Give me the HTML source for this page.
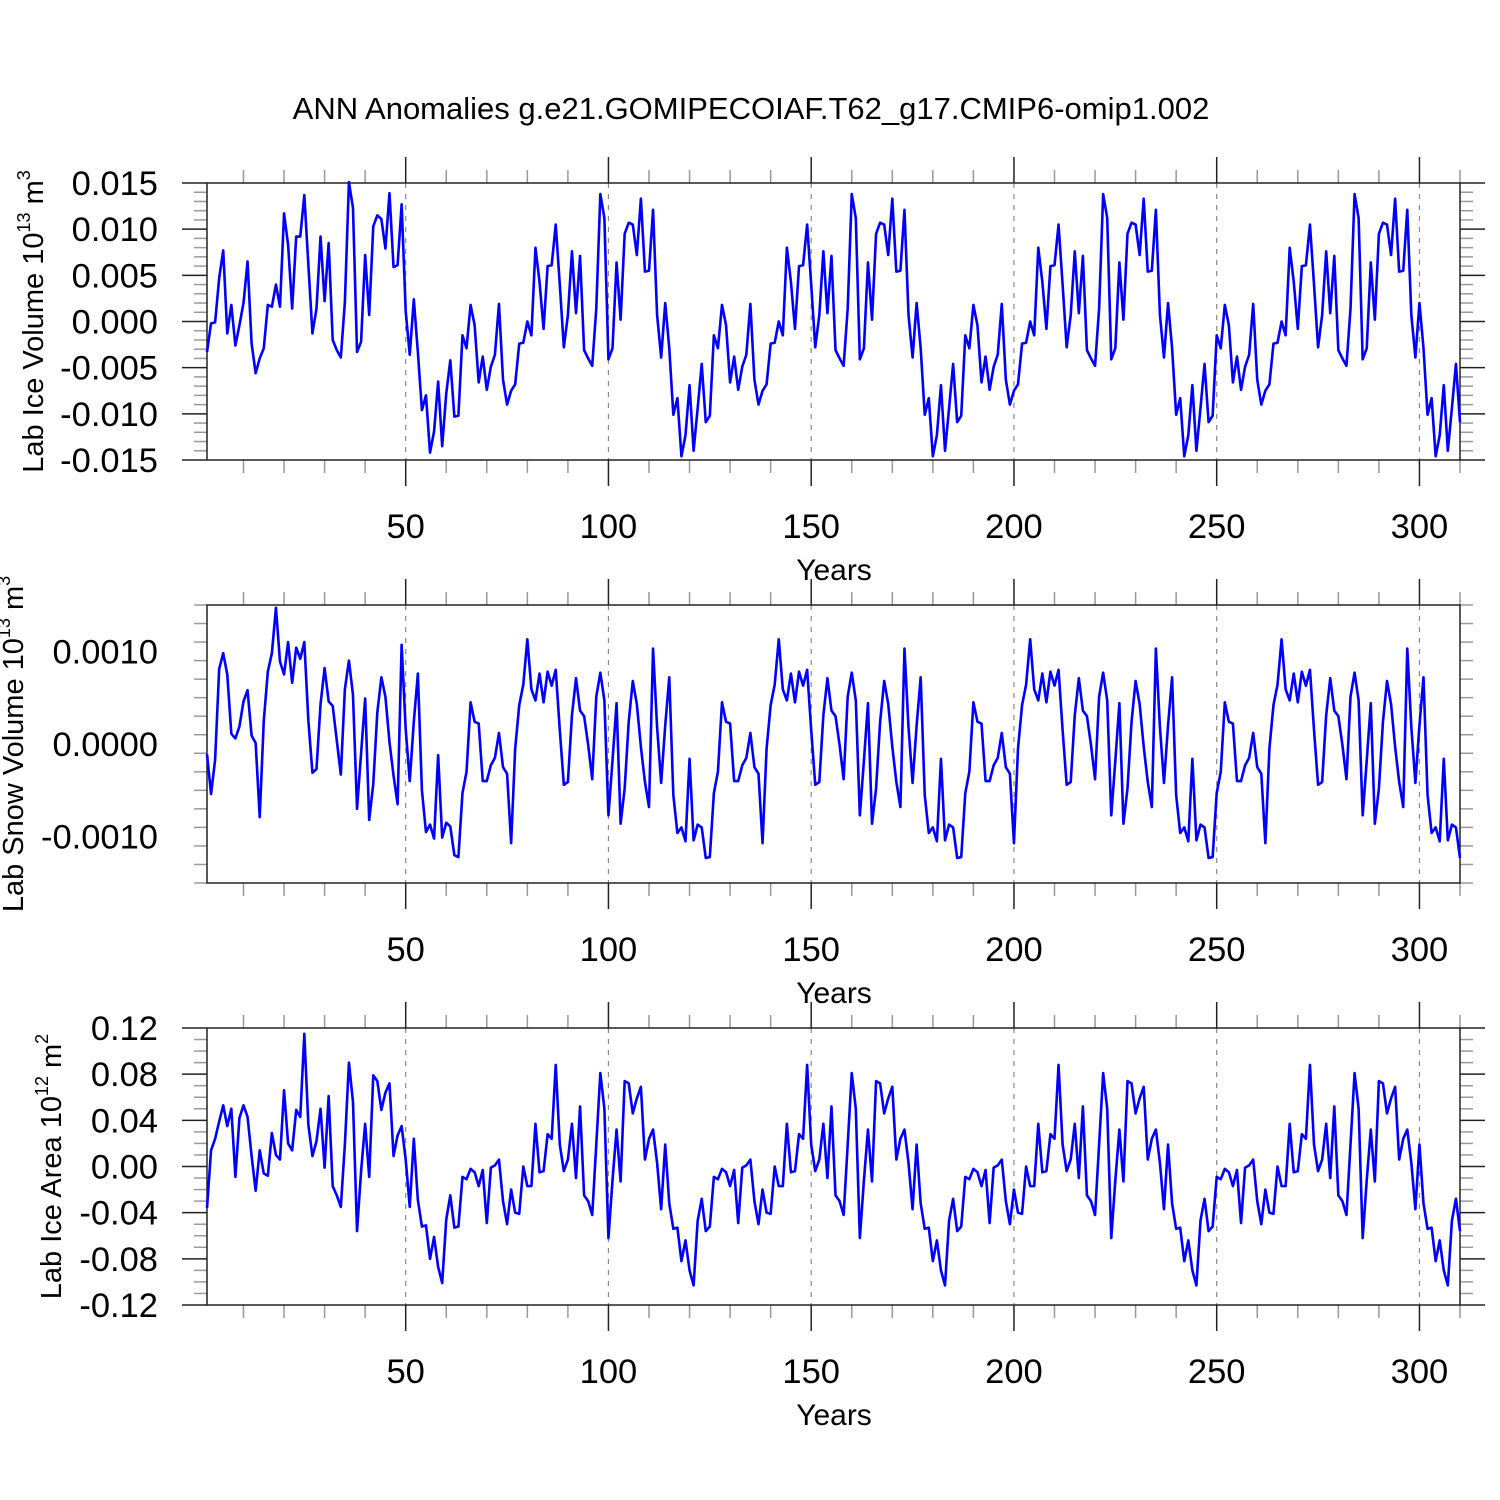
<!DOCTYPE html>
<html><head><meta charset="utf-8"><style>
html,body{margin:0;padding:0;background:#fff;}
svg{display:block;font-family:"Liberation Sans",sans-serif;}
</style></head><body>
<svg id="chart" width="1500" height="1500" viewBox="0 0 1500 1500" xmlns="http://www.w3.org/2000/svg">
<rect width="1500" height="1500" fill="#fff"/>
<text x="751" y="119" font-size="31" text-anchor="middle">ANN Anomalies g.e21.GOMIPECOIAF.T62_g17.CMIP6-omip1.002</text>
</svg>
<script>
// Ice volume (units 1e-3 x 10^13 m^3)
const iceVolCycle1 = [-3.3,-0.2,-0.1,4.7,7.7,-1.3,1.8,-2.6,-0.4,2.0,6.5,-2.4,-5.6,-4.0,-2.9,1.8,1.6,4.0,1.6,11.7,8.3,1.4,9.2,9.2,13.7,6.1,-1.3,1.4,9.2,2.2,8.5,-2.0,-3.1,-3.9,2.1,15.1,12.3,-3.3,-2.2,7.2,0.7,10.3,11.5,11.1,7.9,13.9,5.9,6.1,12.7,1.1,-3.6,2.4,-3.3,-9.6,-8.0,-14.2,-11.9,-6.5,-13.5,-7.8,-4.2,-10.3];
const iceVolCycle = [-10.2,-1.5,-2.9,1.8,-0.4,-6.6,-3.8,-7.4,-4.9,-3.6,1.9,-6.3,-9.0,-7.5,-6.8,-2.4,-2.3,0.0,-1.5,8.0,4.3,-0.8,6.0,6.1,10.5,4.0,-2.8,0.7,7.6,0.9,7.1,-3.1,-4.0,-4.8,1.4,13.8,11.2,-4.1,-2.9,6.4,0.2,9.5,10.7,10.5,7.2,13.3,5.4,5.5,12.1,0.7,-3.9,2.0,-2.9,-10.1,-8.3,-14.6,-12.3,-6.9,-14.0,-9.4,-4.6,-10.9];
// Snow volume (units 1e-4 x 10^13 m^3)
const snowCycle1 = [-1.1,-5.4,-1.7,8.1,9.8,7.5,1.1,0.6,1.9,4.6,5.8,0.9,0.1,-7.9,2.5,7.8,9.8,14.7,8.9,7.5,11.0,6.6,10.4,9.2,11.0,2.5,-3.1,-2.7,4.3,8.2,4.6,4.1,0.4,-3.3,5.9,9.0,5.3,-7.0,-1.0,4.9,-8.2,-4.3,3.4,7.2,5.1,0.2,-3.4,-6.5,10.7,1.6,-4.0,2.4,7.6,-5.0,-9.5,-8.7,-10.2,-1.2,-10.1,-8.5,-8.9,-12.0];
const snowCycle = [-12.2,-5.3,-3.0,4.5,2.4,2.2,-4.0,-4.0,-2.3,-1.5,1.2,-2.5,-3.2,-10.7,-0.5,4.2,6.4,11.3,5.9,4.7,7.6,4.5,7.8,6.3,8.0,1.5,-4.4,-4.1,3.1,7.1,3.6,3.0,-0.1,-3.8,5.1,7.7,4.7,-7.7,-1.8,4.4,-8.6,-4.8,2.4,6.8,4.3,-0.3,-4.1,-6.8,10.3,1.8,-4.2,2.0,7.2,-5.5,-9.6,-9.0,-10.5,-1.6,-10.4,-8.7,-9.0,-12.3];
// Ice area (units 0.01 x 10^12 m^2)
const areaCycle1 = [-3.6,1.4,2.4,3.9,5.3,3.5,5.0,-0.9,4.2,5.3,4.3,0.9,-2.1,1.4,-0.6,-0.8,2.9,1.0,0.6,6.6,2.0,1.4,4.9,4.3,11.5,3.6,0.9,2.2,5.0,-0.1,6.1,-1.7,-2.5,-3.5,1.9,9.0,5.6,-5.6,-0.4,3.7,-0.9,7.9,7.4,4.9,6.4,7.2,0.9,2.7,3.5,0.6,-3.5,2.4,-2.9,-5.2,-5.1,-8.0,-6.1,-8.7,-10.1,-4.6,-2.5,-5.3];
const areaCycle = [-5.2,-0.9,-1.1,-0.2,-0.5,-1.7,-0.3,-4.9,-0.1,0.1,0.6,-3.0,-5.0,-2.0,-4.0,-4.1,0.0,-1.7,-1.7,3.7,-0.5,-0.4,2.8,2.4,8.8,1.9,-0.4,0.6,3.7,-1.0,5.2,-2.5,-3.0,-4.2,1.9,8.1,5.0,-6.2,-1.2,3.2,-1.3,7.4,7.2,4.6,5.9,6.9,0.6,2.4,3.2,0.3,-3.7,1.9,-3.2,-5.4,-5.3,-8.2,-6.4,-9.0,-10.3,-4.7,-2.8,-5.6];

const iceVolume = [...iceVolCycle1, ...iceVolCycle, ...iceVolCycle, ...iceVolCycle, ...iceVolCycle].map(v => v / 1000);
const snowVolume = [...snowCycle1, ...snowCycle, ...snowCycle, ...snowCycle, ...snowCycle].map(v => v / 10000);
const iceArea = [...areaCycle1, ...areaCycle, ...areaCycle, ...areaCycle, ...areaCycle].map(v => v / 100);

const xTickValues = [50,100,150,200,250,300];
const iceVolTicks = ["0.015","0.010","0.005","0.000","-0.005","-0.010","-0.015"];
const snowTicks = ["0.0010","0.0000","-0.0010"];
const areaTicks = ["0.12","0.08","0.04","0.00","-0.04","-0.08","-0.12"];

const NS = "http://www.w3.org/2000/svg";
const svg = document.getElementById("chart");
const X0 = 207, X1 = 1460, YR0 = 1, YR1 = 310;
function xs(yr){ return X0 + (yr - YR0) / (YR1 - YR0) * (X1 - X0); }
function mk(tag, attrs, parent){
  const e = document.createElementNS(NS, tag);
  for (const k in attrs) e.setAttribute(k, attrs[k]);
  (parent || svg).appendChild(e);
  return e;
}

const panels = [
  {name:"ice-volume", top:183, bot:460, ymin:-0.015, ymax:0.015, data:iceVolume, ticks:iceVolTicks, minor:0.001, major:0.005, title:"Lab Ice Volume 10", exp:"13", unit:" m", uexp:"3", tx:33},
  {name:"snow-volume", top:605, bot:883, ymin:-0.0015, ymax:0.0015, data:snowVolume, ticks:snowTicks, minor:0.0002, major:0.001, title:"Lab Snow Volume 10", exp:"13", unit:" m", uexp:"3", tx:13},
  {name:"ice-area", top:1028, bot:1305, ymin:-0.12, ymax:0.12, data:iceArea, ticks:areaTicks, minor:0.01, major:0.04, title:"Lab Ice Area 10", exp:"12", unit:" m", uexp:"2", tx:51}
];

panels.forEach(p => {
  const g = mk("g", {});
  
  
  const ys = v => p.bot - (v - p.ymin) / (p.ymax - p.ymin) * (p.bot - p.top);
  xTickValues.forEach(t => {
    const l = mk("line", {x1:xs(t), x2:xs(t), y1:p.top, y2:p.bot, stroke:"#888", "stroke-width":1.2, "stroke-dasharray":"5,6"}, g);
    
    
  });
  for (let t = 10; t <= 310; t += 10) {
    const isMaj = xTickValues.includes(t);
    const len = isMaj ? 26 : 13;
    mk("line", {x1:xs(t), x2:xs(t), y1:p.top - len, y2:p.top, stroke:isMaj?"#222":"#999", "stroke-width":1.5}, g);
    mk("line", {x1:xs(t), x2:xs(t), y1:p.bot, y2:p.bot + len, stroke:isMaj?"#222":"#999", "stroke-width":1.5}, g);
  }
  const nMin = Math.round((p.ymax - p.ymin) / p.minor);
  for (let i = 0; i <= nMin; i++) {
    const v = p.ymin + i * p.minor;
    const isMaj = Math.abs(v / p.major - Math.round(v / p.major)) < 1e-6;
    const len = isMaj ? 25 : 13;
    const y = ys(v);
    mk("line", {x1:X0 - len, x2:X0, y1:y, y2:y, stroke:isMaj?"#222":"#999", "stroke-width":1.5}, g);
    mk("line", {x1:X1, x2:X1 + len, y1:y, y2:y, stroke:isMaj?"#222":"#999", "stroke-width":1.5}, g);
  }
  const fr = mk("rect", {x:X0, y:p.top, width:X1 - X0, height:p.bot - p.top, fill:"none", stroke:"#222", "stroke-width":1.5}, g);
  
  
  p.ticks.forEach(t => {
    const tx = mk("text", {x:158, y:ys(parseFloat(t)) + 12, "font-size":34.5, "text-anchor":"end"}, g);
    tx.textContent = t;
    
    
  });
  xTickValues.forEach(t => {
    const tx = mk("text", {x:xs(t), y:p.bot + 78, "font-size":34.5, "text-anchor":"middle"}, g);
    tx.textContent = t;
    
    
  });
  const xt = mk("text", {x:834, y:p.bot + 120, "font-size":30, "text-anchor":"middle"}, g);
  xt.textContent = "Years";
  
  
  const cy = (p.top + p.bot) / 2;
  const yt = mk("text", {x:0, y:0, "font-size":29, "text-anchor":"middle", transform:`translate(${p.tx + 10},${cy}) rotate(-90)`}, g);
  
  
  const s1 = mk("tspan", {}, yt); s1.textContent = p.title;
  const s2 = mk("tspan", {"font-size":18, dy:-13}, yt); s2.textContent = p.exp;
  const s3 = mk("tspan", {dy:13}, yt); s3.textContent = p.unit;
  const s4 = mk("tspan", {"font-size":18, dy:-13}, yt); s4.textContent = p.uexp;
  const pts = p.data.map((v, i) => xs(i + 1).toFixed(2) + "," + ys(v).toFixed(2)).join(" ");
  const line = mk("polyline", {points:pts, fill:"none", stroke:"#0000ff", "stroke-width":2.6, "stroke-linejoin":"round"}, g);
  
  
});
</script>
</body></html>
